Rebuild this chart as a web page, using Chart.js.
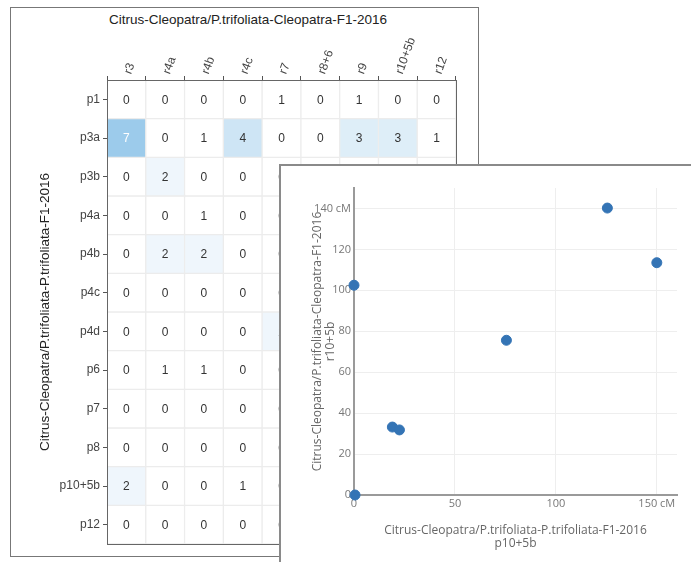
<!DOCTYPE html>
<html lang="en">
<head>
<meta charset="UTF-8">
<title>Citrus-Cleopatra comparison</title>
<script src="https://cdnjs.cloudflare.com/ajax/libs/Chart.js/4.4.0/chart.umd.min.js"></script>
<style>
    html, body {
        margin: 0;
        padding: 0;
        width: 691px;
        height: 562px;
        overflow: hidden;
        background: #fff;
    }
    #matrixPanel {
        position: absolute;
        left: 10px;
        top: 7px;
        width: 467px;
        height: 548px;
        border: 1px solid #777;
        background: #fff;
    }
    #matrixTitle {
        position: absolute;
        left: 98px;
        top: 4px;
        font-family: "Liberation Sans", Arial, sans-serif;
        font-size: 13.5px;
        color: #222;
        white-space: nowrap;
    }
    #scatterPanel {
        position: absolute;
        left: 279px;
        top: 164px;
        width: 420px;
        height: 410px;
        border: 2px solid #8a8a8a;
        background: #fff;
    }
    canvas { position: absolute; left: 0; top: 0; }
</style>
</head>
<body>
<div id="matrixPanel">
    <div id="matrixTitle">Citrus-Cleopatra/P.trifoliata-Cleopatra-F1-2016</div>
    <canvas id="matrixChart" width="467" height="548"></canvas>
</div>
<div id="scatterPanel">
    <canvas id="scatterChart" width="410" height="396"></canvas>
</div>

<script>
// heatmap: columns (Cleopatra linkage groups) and rows (P.trifoliata linkage groups)
const cols = ['r3', 'r4a', 'r4b', 'r4c', 'r7', 'r8+6', 'r9', 'r10+5b', 'r12'];
const rows = ['p1', 'p3a', 'p3b', 'p4a', 'p4b', 'p4c', 'p4d', 'p6', 'p7', 'p8', 'p10+5b', 'p12'];
// shared marker counts, one line per row (cells under the scatter panel are guessed)
const counts = [
    [0, 0, 0, 0, 1, 0, 1, 0, 0],
    [7, 0, 1, 4, 0, 0, 3, 3, 1],
    [0, 2, 0, 0, 0, 0, 0, 0, 0],
    [0, 0, 1, 0, 0, 0, 0, 0, 0],
    [0, 2, 2, 0, 0, 0, 0, 0, 0],
    [0, 0, 0, 0, 0, 0, 0, 0, 0],
    [0, 0, 0, 0, 2, 0, 0, 0, 0],
    [0, 1, 1, 0, 0, 0, 0, 0, 0],
    [0, 0, 0, 0, 0, 0, 0, 0, 0],
    [0, 0, 0, 0, 0, 0, 0, 0, 0],
    [2, 0, 0, 1, 0, 0, 0, 0, 0],
    [0, 0, 0, 0, 0, 0, 0, 0, 0]
];

// scatter: positions of shared markers (cM) on p10+5b vs r10+5b
const posP = [0.5, 0, 19, 22.5, 75.5, 125.5, 150];
const posR = [0, 102.5, 33.2, 31.8, 75.6, 140.2, 113.5];

const matrixFont = '"Liberation Sans", Arial, sans-serif';
const scatterFont = '"Open Sans", sans-serif';

// white for 1 or less, up to light blue at 7
function cellColor(v) {
    const t = Math.max(0, Math.min(1, (v - 1) / 6));
    const r = Math.round(255 + (156 - 255) * t);
    const g = Math.round(255 + (203 - 255) * t);
    const b = Math.round(255 + (235 - 255) * t);
    return `rgb(${r}, ${g}, ${b})`;
}

const cellText = {
    id: 'cellText',
    afterDatasetsDraw(chart) {
        const ctx = chart.ctx;
        ctx.save();
        ctx.font = '12px ' + matrixFont;
        ctx.textAlign = 'center';
        ctx.textBaseline = 'middle';
        chart.data.datasets.forEach((ds, di) => {
            chart.getDatasetMeta(di).data.forEach((bar, i) => {
                const v = counts[di][i];
                ctx.fillStyle = v >= 6 ? '#fff' : '#333';
                ctx.fillText(String(v), bar.x, (bar.y + bar.base) / 2 + 1);
            });
        });
        ctx.restore();
    },
    afterDraw(chart) {
        const a = chart.chartArea;
        const ctx = chart.ctx;
        ctx.save();
        ctx.strokeStyle = '#666';
        ctx.lineWidth = 1;
        ctx.strokeRect(Math.round(a.left) + 0.5, Math.round(a.top) + 0.5,
            Math.round(a.right - a.left), Math.round(a.bottom - a.top));
        ctx.restore();
    }
};

new Chart(document.getElementById('matrixChart'), {
    type: 'bar',
    data: {
        labels: cols,
        datasets: rows.map((row, r) => ({
            label: row,
            data: cols.map(() => [r, r + 1]),
            backgroundColor: counts[r].map(cellColor),
            borderColor: '#ececec',
            borderWidth: 1,
            borderSkipped: false,
            barPercentage: 1,
            categoryPercentage: 1,
            grouped: false
        }))
    },
    options: {
        responsive: false,
        animation: false,
        layout: { padding: { left: 0, top: 0, right: 22, bottom: 12 } },
        plugins: {
            legend: { display: false },
            tooltip: { enabled: false }
        },
        scales: {
            x: {
                position: 'top',
                afterFit: s => { s.height = 72; },
                grid: { drawOnChartArea: false, tickLength: 4, color: '#555' },
                border: { display: true, color: '#666' },
                ticks: {
                    autoSkip: false,
                    minRotation: 70,
                    maxRotation: 70,
                    padding: 0,
                    labelOffset: 15,
                    color: '#444',
                    font: { family: matrixFont, size: 12 }
                }
            },
            y: {
                min: 0,
                max: rows.length,
                reverse: true,
                afterFit: s => { s.width = 96; },
                afterBuildTicks: s => { s.ticks = rows.map((_, i) => ({ value: i + 0.5 })); },
                grid: { drawOnChartArea: false, tickLength: 4, color: '#555' },
                border: { display: true, color: '#666' },
                ticks: {
                    padding: 3,
                    color: '#444',
                    font: { family: matrixFont, size: 12 },
                    callback: (v, i) => rows[i]
                },
                title: {
                    display: true,
                    text: 'Citrus-Cleopatra/P.trifoliata-P.trifoliata-F1-2016',
                    color: '#222',
                    font: { family: matrixFont, size: 13.5 },
                    padding: { top: 26, bottom: 0 }
                }
            }
        }
    },
    plugins: [cellText]
});

const withUnit = (v, i, ticks) => i === ticks.length - 1 ? v + ' cM' : v;

new Chart(document.getElementById('scatterChart'), {
    type: 'scatter',
    data: {
        datasets: [{
            data: posP.map((x, i) => ({ x: x, y: posR[i] })),
            backgroundColor: '#3474b5',
            borderColor: '#3474b5',
            pointRadius: 5,
            clip: false
        }]
    },
    options: {
        responsive: false,
        animation: false,
        layout: { padding: { left: 0, top: 22, right: 14, bottom: 0 } },
        plugins: {
            legend: { display: false },
            tooltip: { enabled: false }
        },
        scales: {
            x: {
                type: 'linear',
                min: 0,
                max: 160,
                afterFit: s => { s.height = 67; },
                grid: { color: '#eeeeee', drawTicks: false },
                border: { color: '#9a9a9a', width: 2 },
                ticks: {
                    stepSize: 50,
                    includeBounds: false,
                    padding: 2,
                    color: '#777',
                    font: { family: scatterFont, size: 11 },
                    callback: withUnit
                },
                title: {
                    display: true,
                    text: ['Citrus-Cleopatra/P.trifoliata-P.trifoliata-F1-2016', 'p10+5b'],
                    color: '#666',
                    font: { family: scatterFont, size: 12, lineHeight: 1.1 },
                    padding: { top: 0, bottom: 12 }
                }
            },
            y: {
                type: 'linear',
                min: 0,
                max: 150,
                afterFit: s => { s.width = 73; },
                grid: { color: '#eeeeee', drawTicks: false },
                border: { color: '#9a9a9a', width: 2 },
                ticks: {
                    stepSize: 20,
                    includeBounds: false,
                    padding: 3,
                    color: '#777',
                    font: { family: scatterFont, size: 11 },
                    callback: withUnit
                },
                title: {
                    display: true,
                    text: ['Citrus-Cleopatra/P.trifoliata-Cleopatra-F1-2016', 'r10+5b'],
                    color: '#666',
                    font: { family: scatterFont, size: 12, lineHeight: 1.1 },
                    padding: { top: 30, bottom: 0 }
                }
            }
        }
    }
});
</script>
</body>
</html>
